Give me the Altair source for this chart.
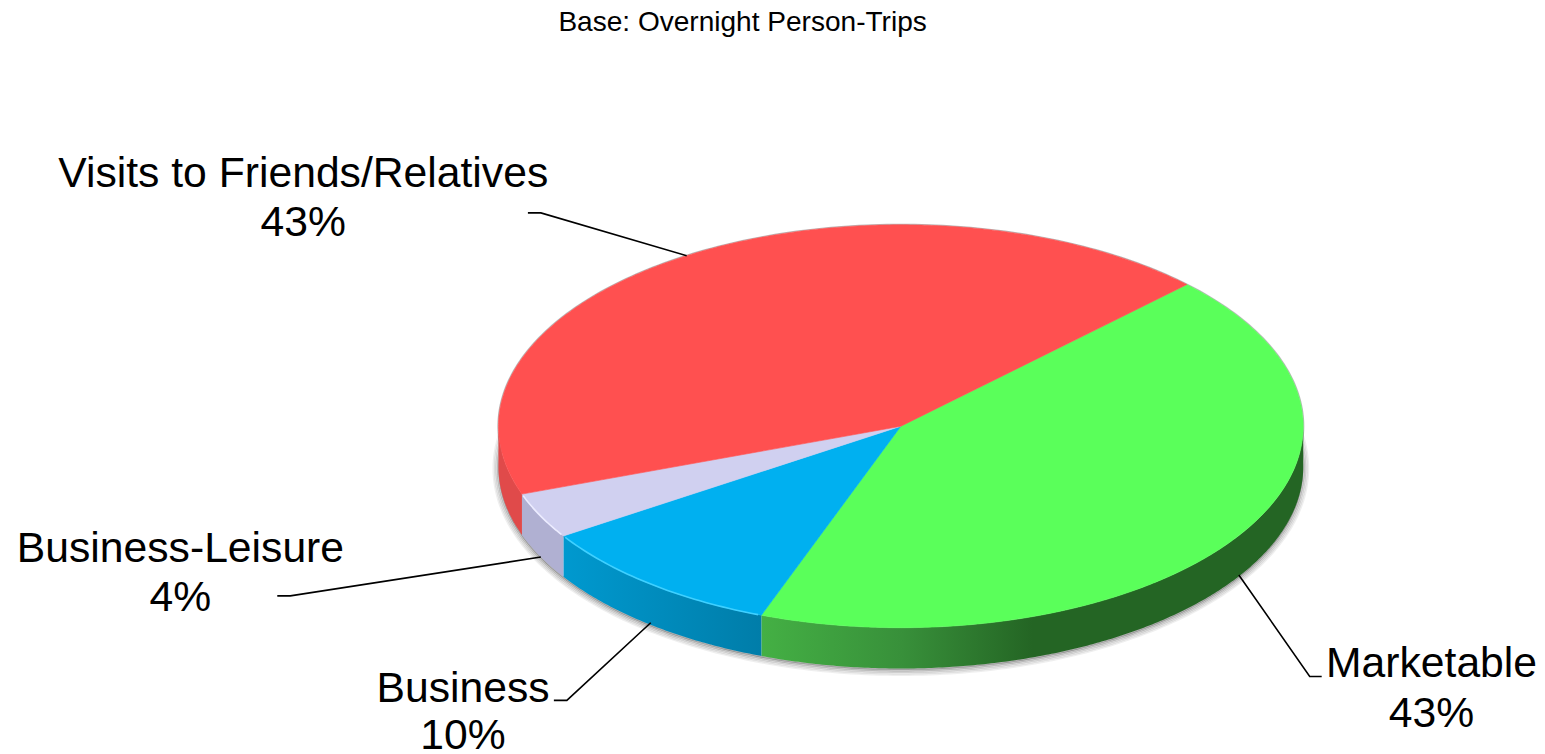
import numpy as np
import pandas as pd
import altair as alt

categories = ["Marketable", "Business", "Business-Leisure", "Visits to Friends/Relatives"]
shares = [43.05, 10.2, 3.7, 43.05]
share_labels = ["43%", "10%", "4%", "43%"]
top_colors = ["#5AFF5A", "#00B0F0", "#D0D0F0", "#FF5050"]
title_text = "Base: Overnight Person-Trips"

W, H = 1537, 746
CX, CY, RX, RY, DEPTH = 900.5, 426.5, 403, 202.5, 41
START = 45.3
FONT = "Liberation Sans"

X = alt.X("x:Q", axis=None, scale=alt.Scale(domain=[8, 8 + W], range=[1.7, 1544.4], nice=False, zero=False))
Y = alt.Y("y:Q", axis=None, scale=alt.Scale(domain=[8, 8 + H], range=[0, H], nice=False, zero=False))
Y2 = alt.Y2("y2:Q")


def pt(deg, cy=CY, grow=0.0):
    r = np.radians(deg)
    return CX + (RX + grow) * np.sin(r), cy - (RY + grow) * np.cos(r)


def polyline(degs, cy=CY, grow=0.0):
    xs, ys = pt(np.asarray(degs, dtype=float), cy, grow)
    return pd.DataFrame({"i": range(len(xs)), "x": xs, "y": ys})


def line_layer(df, **mark):
    return alt.Chart(df).mark_line(**mark).encode(x=X, y=Y, order="i:Q")


def wedge(a0, a1, color):
    degs = np.linspace(a0, a1, max(3, int(a1 - a0) * 2))
    df = polyline(degs)
    head = pd.DataFrame({"i": [-1], "x": [CX], "y": [CY]})
    return line_layer(pd.concat([head, df]), interpolate="linear-closed", fill=color,
                      stroke=color, strokeWidth=0.6, filled=False)


def wall(a0, a1, fill):
    a0c, a1c = max(a0, 90), min(a1, 270)
    degs = np.linspace(a0c, a1c, max(3, int(a1c - a0c) * 2))
    xs, ys = pt(degs)
    df = pd.DataFrame({"x": xs, "y": ys, "y2": ys + DEPTH})
    return alt.Chart(df).mark_area(fill=fill, interpolate="linear", line=False).encode(x=X, y=Y, y2=Y2)


def grad(stops):
    return alt.LinearGradient(gradient="linear", x1=0, x2=1, y1=0, y2=0,
                              stops=[alt.GradientStop(offset=o, color=c) for o, c in stops])


edges = START + np.cumsum([0] + shares) * 3.6
spans = list(zip(edges[:-1], edges[1:]))

layers = []

# soft shadow under the disc
for g, op in [(7, 0.08), (5.5, 0.12), (4, 0.18), (2.5, 0.26), (1, 0.38)]:
    layers.append(line_layer(polyline(np.arange(75, 286, 1.0), CY + DEPTH + 1.5, g - 2),
                             stroke="#303030", strokeWidth=2, opacity=op))

# outline of the top face
layers.append(line_layer(polyline(np.arange(0, 361, 1.0), CY, 0.5),
                         stroke="#808080", strokeWidth=1.2, opacity=0.55))

wall_fills = [
    grad([(0, "#44B044"), (0.26, "#38903A"), (0.5, "#246524"), (1, "#246524")]),
    grad([(0, "#0099CF"), (1, "#007DA9")]),
    "#B0B0D2",
    "#E04A4A",
]
for (a0, a1), fill in zip(spans, wall_fills):
    layers.append(wall(a0, a1, fill))

for (a0, a1), c in zip(spans, top_colors):
    layers.append(wedge(a0, a1, c))

# thin lit rim along the front edge
for (a0, a1), c in zip(spans[1:3], ["#3FD0FF", "#ECECFF"]):
    layers.append(line_layer(polyline(np.linspace(a0 + 0.5, a1 - 0.5, 40)), stroke=c, strokeWidth=1.6))

leaders = [
    [(1239, 576), (1310, 678), (1322, 678)],
    [(650, 624), (566, 702), (553, 702)],
    [(540, 558), (289, 597), (276, 597)],
    [(686, 255), (540, 212), (527, 212)],
]
for path in leaders:
    df = pd.DataFrame({"i": range(len(path)), "x": [p[0] for p in path], "y": [p[1] for p in path]})
    layers.append(line_layer(df, stroke="black", strokeWidth=1.6))

label_pos = [(1432, 679, 729), (462, 704, 751), (179, 563, 612), (302, 186, 235)]
rows = []
for cat, lab, (x, y1, y2) in zip(categories, share_labels, label_pos):
    rows.append({"x": x, "y": y1, "t": cat})
    rows.append({"x": x, "y": y2, "t": lab})
layers.append(alt.Chart(pd.DataFrame(rows)).mark_text(
    font=FONT, fontSize=42.9, align="center", baseline="alphabetic", color="black"
).encode(x=X, y=Y, text="t:N"))

layers.append(alt.Chart(pd.DataFrame({"x": [742], "y": [29], "t": [title_text]})).mark_text(
    font=FONT, fontSize=28.2, align="center", baseline="alphabetic", color="black"
).encode(x=X, y=Y, text="t:N"))

chart = alt.layer(*layers).properties(
    width=W, height=H, padding=0, autosize=alt.AutoSizeParams(type="none"),
    background="white",
).configure_view(stroke=None)

chart.save("out.html", embed_options={"renderer": "svg", "actions": False})
